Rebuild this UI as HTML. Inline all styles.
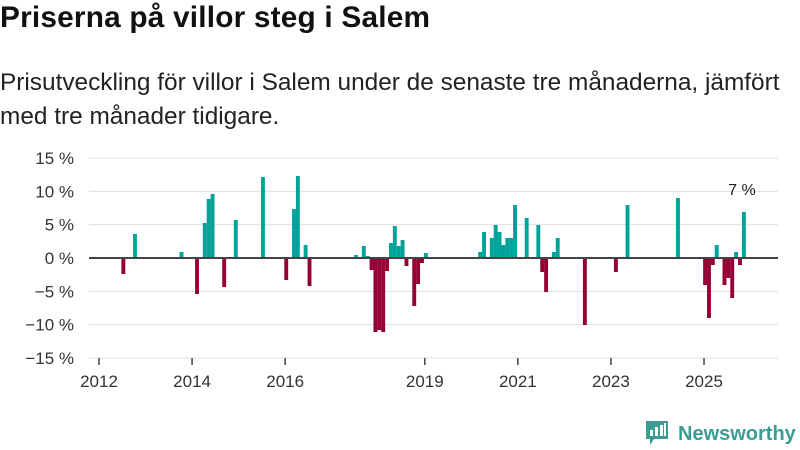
<!DOCTYPE html>
<html><head><meta charset="utf-8"><style>
body{margin:0;width:800px;height:450px;background:#fff;overflow:hidden;font-family:"Liberation Sans",sans-serif;color:#111}
h1{position:absolute;left:0;top:1px;margin:0;font-size:29.8px;font-weight:bold;letter-spacing:0.2px}
p{position:absolute;left:0;top:66px;margin:0;font-size:24.4px;line-height:34px;color:#222;width:800px}
svg{position:absolute;left:0;top:0}
</style></head><body>
<h1>Priserna på villor steg i Salem</h1>
<p>Prisutveckling för villor i Salem under de senaste tre månaderna, jämfört med tre månader tidigare.</p>
<svg id="c" width="800" height="450"></svg>
<script>
const months=["2012-06","2012-09","2013-09","2014-01","2014-03","2014-04","2014-05","2014-08","2014-11","2015-06","2015-12","2016-02","2016-03","2016-05","2016-06","2017-06","2017-08","2017-09","2017-10","2017-11","2017-12","2018-01","2018-02","2018-03","2018-04","2018-05","2018-06","2018-07","2018-09","2018-10","2018-11","2018-12","2020-02","2020-03","2020-05","2020-06","2020-07","2020-08","2020-09","2020-10","2020-11","2021-02","2021-05","2021-06","2021-07","2021-09","2021-10","2022-05","2023-01","2023-04","2024-05","2024-12","2025-01","2025-02","2025-03","2025-05","2025-06","2025-07","2025-08","2025-09","2025-10"];
const values=[-2.4,3.6,0.9,-5.4,5.25,8.85,9.6,-4.35,5.7,12.15,-3.3,7.35,12.3,1.95,-4.2,0.45,1.8,0.3,-1.8,-11.1,-10.8,-11.1,-1.95,2.25,4.8,1.8,2.7,-1.2,-7.2,-3.9,-0.75,0.75,0.9,3.9,3.0,4.95,3.9,1.95,3.0,3.0,7.95,6.0,4.95,-2.1,-5.1,0.9,3.0,-10.05,-2.1,7.95,9.0,-4.05,-9.0,-1.05,1.95,-4.05,-3.0,-6.0,0.9,-1.05,6.9];
const yTicks=[15,10,5,0,-5,-10,-15];
const xTicks=[2012,2014,2016,2019,2021,2023,2025];
const NS="http://www.w3.org/2000/svg",svg=document.getElementById('c');
const x=t=>99+(t-2012)*46.54;
const y=v=>258-v*(100/15);
const mIdx=s=>{const [a,b]=s.split('-').map(Number);return a+(b-1)/12;};
function mk(tag,at,txt){const e=document.createElementNS(NS,tag);for(const k in at)e.setAttribute(k,at[k]);if(txt!=null)e.textContent=txt;svg.appendChild(e);return e;}
yTicks.forEach(v=>{
  const g=mk('line',{x1:89,x2:778,y1:y(v),y2:y(v),stroke:'#e0e0e0','stroke-width':1});
  
  
  const t=mk('text',{x:74,y:y(v)+6,'text-anchor':'end','font-size':17,fill:'#333','font-family':'Liberation Sans, sans-serif'},(v<0?'\u2212'+(-v):v)+' %');
  
  
});
xTicks.forEach(yr=>{
  const l=mk('line',{x1:x(yr),x2:x(yr),y1:358,y2:365,stroke:'#444','stroke-width':1.5});
  
  
  const t=mk('text',{x:x(yr),y:387,'text-anchor':'middle','font-size':17,fill:'#333','font-family':'Liberation Sans, sans-serif'},yr);
  
  
});
months.forEach((m,i)=>{
  const v=values[i],x0=x(mIdx(m))+3;
  const r=mk('rect',{x:x0,width:3.9,y:Math.min(y(v),y(0)),height:Math.abs(y(v)-y(0)),fill:v>=0?'#00a39a':'#960036'});
  
  
});
const z=mk('line',{x1:89,x2:778,y1:y(0),y2:y(0),stroke:'#444','stroke-width':2});


const lastI=values.length-1;
const lab=mk('text',{x:x(mIdx(months[lastI]))+3,y:y(values[lastI])-17,'text-anchor':'middle','font-size':16,fill:'#222','font-family':'Liberation Sans, sans-serif'},Math.round(values[lastI])+' %');


</script>
<svg width="800" height="450" style="pointer-events:none">
<path d="M646 421h22v18h-14l-4 6v-6h-4z" fill="#3a9c93"/>
<rect x="650" y="430" width="3" height="6" fill="#fff"/><rect x="655" y="427" width="3" height="9" fill="#fff"/><rect x="660" y="425" width="3" height="11" fill="#fff"/><rect x="664" y="423" width="2" height="13" fill="#fff"/>
<text x="678" y="440" font-size="20" font-weight="bold" fill="#3a9c93" font-family="Liberation Sans, sans-serif">Newsworthy</text>
</svg>
</body></html>
